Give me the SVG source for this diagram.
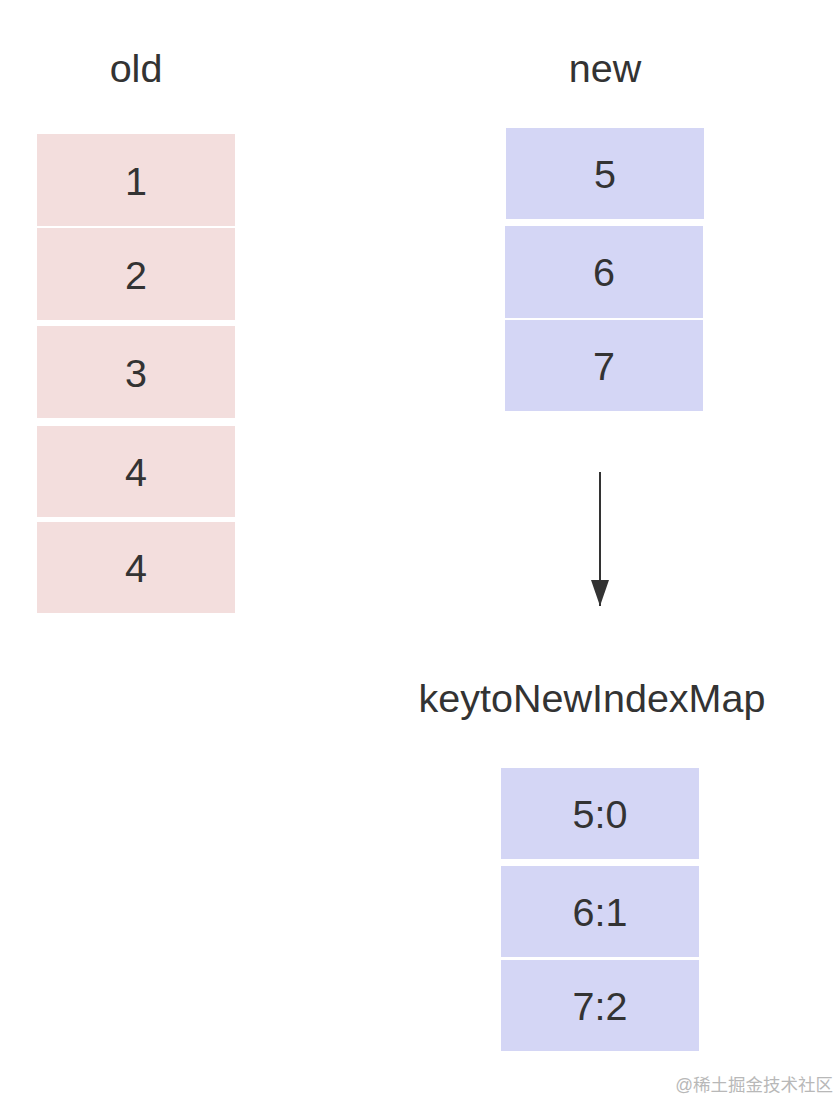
<svg xmlns="http://www.w3.org/2000/svg" width="840" height="1100" viewBox="0 0 840 1100">
<defs>
<style>
.t{font-family:"Liberation Sans",Arial,sans-serif;font-size:39.5px;fill:#333;text-anchor:middle}
.old{fill:#f3dedd}
.new{fill:#d4d6f5}
.wm{font-family:"Liberation Sans","Noto Sans CJK SC",sans-serif;font-size:17.5px;fill:#b8b8b8}
</style>
<marker id="ah" markerWidth="26" markerHeight="18" refX="26" refY="9" orient="auto" markerUnits="userSpaceOnUse" viewBox="0 0 26 18">
<path d="M0,0 L26,9 L0,18 Z" fill="#333"/>
</marker>
</defs>
<rect width="840" height="1100" fill="#fff"/>
<text class="t" x="136" y="82">old</text>
<text class="t" x="605" y="82">new</text>
<text class="t" x="592" y="712">keytoNewIndexMap</text>
<g id="old1"><rect class="old" x="37" y="134" width="198" height="92"/><text class="t" x="136" y="195">1</text></g>
<g id="old2"><rect class="old" x="37" y="228" width="198" height="92"/><text class="t" x="136" y="289">2</text></g>
<g id="old3"><rect class="old" x="37" y="326" width="198" height="92"/><text class="t" x="136" y="387">3</text></g>
<g id="old4"><rect class="old" x="37" y="426" width="198" height="91"/><text class="t" x="136" y="486">4</text></g>
<g id="old5"><rect class="old" x="37" y="522" width="198" height="91"/><text class="t" x="136" y="582">4</text></g>
<g id="new5"><rect class="new" x="506" y="128" width="198" height="91"/><text class="t" x="605" y="188">5</text></g>
<g id="new6"><rect class="new" x="505" y="226" width="198" height="92"/><text class="t" x="604" y="286">6</text></g>
<g id="new7"><rect class="new" x="505" y="320" width="198" height="91"/><text class="t" x="604" y="380">7</text></g>
<g id="map0"><rect class="new" x="501" y="768" width="198" height="91"/><text class="t" x="600" y="828">5:0</text></g>
<g id="map1"><rect class="new" x="501" y="866" width="198" height="91"/><text class="t" x="600" y="926">6:1</text></g>
<g id="map2"><rect class="new" x="501" y="960" width="198" height="91"/><text class="t" x="600" y="1020">7:2</text></g>
<g id="connectors">
<line x1="600" y1="472" x2="600" y2="606" stroke="#333" stroke-width="2" marker-end="url(#ah)"/>
</g>
<text class="wm" x="833" y="1091" text-anchor="end">@稀土掘金技术社区</text>
</svg>
